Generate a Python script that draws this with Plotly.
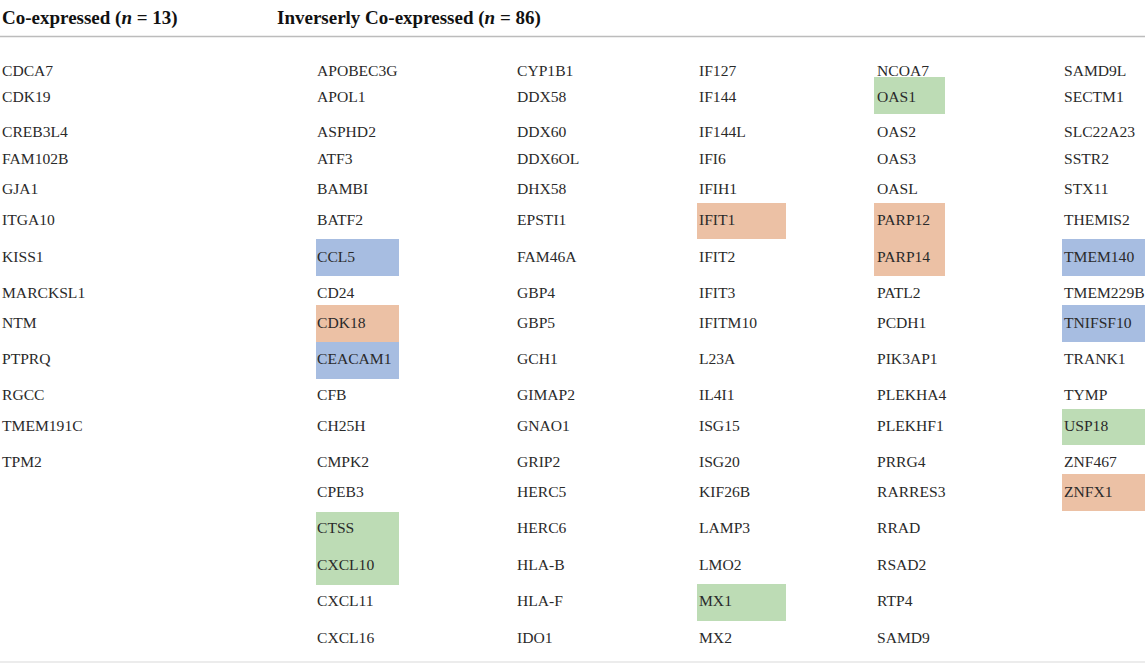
import plotly.graph_objects as go

# ---- data ----
header_co = "Co-expressed (<i>n</i> = 13)"
header_inv = "Inverserly Co-expressed (<i>n</i> = 86)"

co_expressed = ["CDCA7", "CDK19", "CREB3L4", "FAM102B", "GJA1", "ITGA10", "KISS1",
                "MARCKSL1", "NTM", "PTPRQ", "RGCC", "TMEM191C", "TPM2"]
inv_col1 = ["APOBEC3G", "APOL1", "ASPHD2", "ATF3", "BAMBI", "BATF2", "CCL5", "CD24",
            "CDK18", "CEACAM1", "CFB", "CH25H", "CMPK2", "CPEB3", "CTSS", "CXCL10",
            "CXCL11", "CXCL16"]
inv_col2 = ["CYP1B1", "DDX58", "DDX60", "DDX6OL", "DHX58", "EPSTI1", "FAM46A", "GBP4",
            "GBP5", "GCH1", "GIMAP2", "GNAO1", "GRIP2", "HERC5", "HERC6", "HLA-B",
            "HLA-F", "IDO1"]
inv_col3 = ["IF127", "IF144", "IF144L", "IFI6", "IFIH1", "IFIT1", "IFIT2", "IFIT3",
            "IFITM10", "L23A", "IL4I1", "ISG15", "ISG20", "KIF26B", "LAMP3", "LMO2",
            "MX1", "MX2"]
inv_col4 = ["NCOA7", "OAS1", "OAS2", "OAS3", "OASL", "PARP12", "PARP14", "PATL2",
            "PCDH1", "PIK3AP1", "PLEKHA4", "PLEKHF1", "PRRG4", "RARRES3", "RRAD",
            "RSAD2", "RTP4", "SAMD9"]
inv_col5 = ["SAMD9L", "SECTM1", "SLC22A23", "SSTR2", "STX11", "THEMIS2", "TMEM140",
            "TMEM229B", "TNIFSF10", "TRANK1", "TYMP", "USP18", "ZNF467", "ZNFX1"]

blue_genes = ["CCL5", "CEACAM1", "TMEM140", "TNIFSF10"]
orange_genes = ["CDK18", "IFIT1", "PARP12", "PARP14", "ZNFX1"]
green_genes = ["CTSS", "CXCL10", "MX1", "OAS1", "USP18"]

# ---- layout (pixel geometry) ----
W, H = 1145, 664
columns = [co_expressed, inv_col1, inv_col2, inv_col3, inv_col4, inv_col5]
col_x = [0, 315, 515, 697, 875, 1062]
col_box = [(0, 90), (316, 399), (515, 600), (697, 786), (874, 945), (1062, 1145)]
row_text_y = [70, 96, 131, 158, 188, 219, 256, 292, 322, 358, 394, 425, 461, 491,
              527, 564, 600, 637]
row_edges = [(51, 77), (77, 114), (114, 149), (149, 170), (170, 203), (203, 239),
             (239, 276), (276, 305), (305, 342), (342, 379), (379, 409), (409, 445),
             (445, 474), (474, 511), (512, 548), (548, 585), (584, 621), (621, 655)]
colors = {"blue": "#a7bde1", "orange": "#ecc1a5", "green": "#bddcb5"}

FONT = "Liberation Serif"
TXT = "#2a2a2a"

fig = go.Figure()
fig.add_trace(go.Scatter(x=[0, W], y=[0, H], mode="markers",
                         marker=dict(opacity=0), hoverinfo="skip", showlegend=False))

shapes = []
annotations = []
for ci, genes in enumerate(columns):
    for ri, g in enumerate(genes):
        c = None
        if g in blue_genes:
            c = colors["blue"]
        elif g in orange_genes:
            c = colors["orange"]
        elif g in green_genes:
            c = colors["green"]
        if c:
            y0, y1 = row_edges[ri]
            x0, x1 = col_box[ci]
            shapes.append(dict(type="rect", xref="x", yref="y", x0=x0, x1=x1, y0=y0, y1=y1,
                               fillcolor=c, line=dict(width=0), layer="below"))
        annotations.append(dict(x=col_x[ci], y=row_text_y[ri], xref="x", yref="y",
                                text=g, showarrow=False, xanchor="left", yanchor="middle",
                                font=dict(family=FONT, size=15.6, color=TXT)))

annotations.append(dict(x=0, y=18, xref="x", yref="y", text="<b>" + header_co + "</b>",
                        showarrow=False, xanchor="left", yanchor="middle",
                        font=dict(family=FONT, size=19, color="#111")))
annotations.append(dict(x=275, y=18, xref="x", yref="y", text="<b>" + header_inv + "</b>",
                        showarrow=False, xanchor="left", yanchor="middle",
                        font=dict(family=FONT, size=19, color="#111")))

shapes.append(dict(type="line", xref="x", yref="y", x0=0, x1=W, y0=36.5, y1=36.5,
                   line=dict(color="#bcbcbc", width=1.6)))
shapes.append(dict(type="line", xref="x", yref="y", x0=0, x1=W, y0=662, y1=662,
                   line=dict(color="#e6e6e6", width=1.5)))

fig.update_layout(
    width=W, height=H, margin=dict(l=0, r=0, t=0, b=0),
    paper_bgcolor="white", plot_bgcolor="white",
    xaxis=dict(range=[0, W], visible=False, fixedrange=True),
    yaxis=dict(range=[H, 0], visible=False, fixedrange=True),
    shapes=shapes, annotations=annotations, showlegend=False,
)
fig.write_html("out.html", config={"displayModeBar": False, "staticPlot": True})

# remove the browser's default page margin so the figure sits at the page origin
with open("out.html", "r", encoding="utf-8") as f:
    html = f.read()
html = html.replace("<body>", '<body style="margin:0;padding:0;overflow:hidden">', 1)
with open("out.html", "w", encoding="utf-8") as f:
    f.write(html)
